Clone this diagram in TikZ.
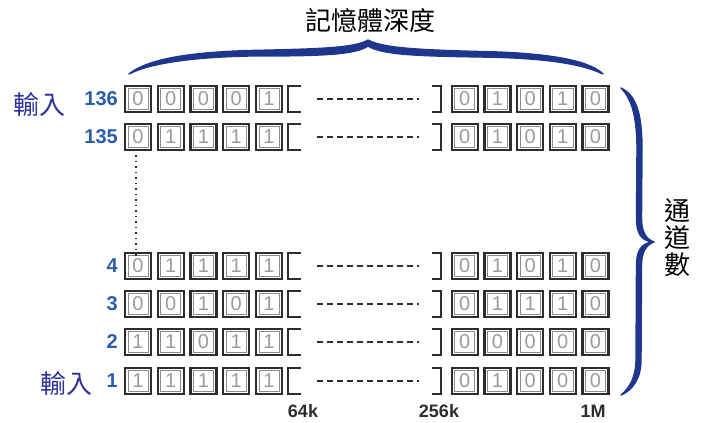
\documentclass[tikz,border=0pt]{standalone}
\usepackage{fontspec}
\setmainfont{Liberation Sans}
\newfontfamily\cjk{Noto Sans CJK TC}
\definecolor{navy}{RGB}{30,55,140}
\definecolor{numblue}{RGB}{42,92,170}
\definecolor{inblue}{RGB}{46,52,150}
\definecolor{boxdark}{RGB}{45,45,45}
\definecolor{digitgray}{RGB}{155,155,155}
\definecolor{innergray}{RGB}{140,140,140}
\tikzset{
  cell/.style={draw=boxdark, line width=2.2pt, minimum width=26pt, minimum height=26.5pt,
    inner sep=0pt, text=digitgray, font=\fontsize{20}{20}\selectfont,
    path picture={\draw[innergray, line width=0.8pt]
      ([shift={(2.9pt,-2.9pt)}]path picture bounding box.north west) rectangle
      ([shift={(-2.9pt,2.9pt)}]path picture bounding box.south east);}},
  rowlabel/.style={anchor=east, inner sep=0pt, text=numblue, font=\bfseries\fontsize{20}{20}\selectfont},
  bracketline/.style={draw=boxdark, line width=2.2pt},
  dashline/.style={draw=boxdark, line width=1.4pt, dash pattern=on 6pt off 4pt},
  dotline/.style={draw=boxdark, line width=1.4pt, dash pattern=on 1.5pt off 4pt},
  axislabel/.style={inner sep=0pt, text=boxdark, font=\bfseries\fontsize{18}{18}\selectfont},
  inlabel/.style={inner sep=0pt, text=inblue, font=\cjk\fontsize{26}{26}\selectfont},
  title/.style={inner sep=0pt, text=black, font=\cjk\fontsize{26}{27}\selectfont, align=center},
  brace/.style={fill=navy, draw=navy, line width=1.4pt, line join=round}
}
\begin{document}
\begin{tikzpicture}[x=1pt,y=-1pt]
\useasboundingbox (0,0) rectangle (705,423);

\foreach \r/\y/\L/\R in {136/99/{0,0,0,0,1}/{0,1,0,1,0},
                         135/137/{0,1,1,1,1}/{0,1,0,1,0},
                         4/266/{0,1,1,1,1}/{0,1,0,1,0},
                         3/304/{0,0,1,0,1}/{0,1,1,1,0},
                         2/342/{1,1,0,1,1}/{0,0,0,0,0},
                         1/381/{1,1,1,1,1}/{0,1,0,0,0}} {
  \node[rowlabel] (lab\r) at (118,\y) {\r};
  \foreach \b [count=\i] in \L {
    \node[cell] (c\r-\i) at ({138+(\i-1)*32.75},\y) {\b};
  }
  \foreach \b [count=\i] in \R {
    \node[cell] (d\r-\i) at ({464.7+(\i-1)*32.7},\y) {\b};
  }
  \draw[bracketline] (301,{\y-13.2}) -- (288,{\y-13.2}) -- (288,{\y+13.2}) -- (301,{\y+13.2});
  \draw[bracketline] (432,{\y-13.2}) -- (441,{\y-13.2}) -- (441,{\y+13.2}) -- (432,{\y+13.2});
  \coordinate (dl\r) at (317,\y);
  \coordinate (dr\r) at (419,\y);
  \draw[dashline] (dl\r) -- (dr\r);
}

\draw[dotline] ([xshift=-2pt,yshift=1.5pt]c135-1.south) -- ([xshift=-2pt,yshift=-4.5pt]c4-1.north);

\node[axislabel] (k64) at (303,411) {64k};
\node[axislabel] (k256) at (439,411) {256k};
\node[axislabel] (m1) at (593,411) {1M};

\node[inlabel] (in1) at (39,105) {輸入};
\node[inlabel] (in2) at (66,384) {輸入};

\node[title] (depth) at (370,21) {記憶體深度};
\node[title] (chan) at (677,238) {通\\道\\數};

% top brace
\path[brace] (129,74) .. controls (150,57) and (200,52) .. (250,50.5)
  .. controls (320,49) and (355,48) .. (368,40)
  .. controls (382,48) and (420,50) .. (480,51.5)
  .. controls (560,53) and (592,63) .. (603,74)
  .. controls (588,67) and (560,58) .. (480,57)
  .. controls (420,56) and (382,55) .. (368,46)
  .. controls (355,55) and (320,56) .. (250,56)
  .. controls (200,57) and (152,62) .. (129,74) -- cycle;

% right brace
\path[brace] (621,88) .. controls (638,96) and (642,118) .. (642,150)
  -- (641.5,218) .. controls (641.5,232) and (646,239) .. (654,242)
  .. controls (646,245) and (641.5,252) .. (641.5,266)
  -- (641,360) .. controls (641,378) and (633,390) .. (621,395)
  .. controls (630,388) and (636,376) .. (636,360)
  -- (636.5,266) .. controls (636.5,252) and (640,244) .. (652,242)
  .. controls (640,240) and (636.5,232) .. (636.5,218)
  -- (637,150) .. controls (637,120) and (633,100) .. (621,88) -- cycle;
\end{tikzpicture}
\end{document}
